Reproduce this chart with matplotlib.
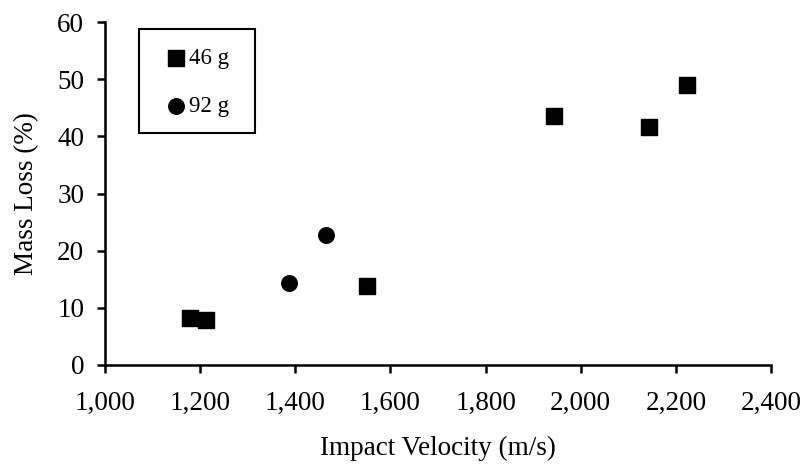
import matplotlib
matplotlib.use("Agg")
import matplotlib.pyplot as plt
from matplotlib.patches import Rectangle

# Data
vel_46g = [1179, 1213, 1551, 1944, 2144, 2224]
loss_46g = [8.2, 7.8, 13.9, 43.5, 41.7, 49.0]
vel_92g = [1387, 1465]
loss_92g = [14.3, 22.7]

x_ticks = [1000, 1200, 1400, 1600, 1800, 2000, 2200, 2400]
y_ticks = [0, 10, 20, 30, 40, 50, 60]

plt.rcParams['font.family'] = ['Liberation Serif', 'DejaVu Serif']

W, H = 805, 465
fig = plt.figure(figsize=(W / 100, H / 100), dpi=100)
ax = fig.add_axes([105 / W, 1 - 365 / H, (771 - 105) / W, (365 - 22) / H])

ax.scatter(vel_46g, loss_46g, marker='s', s=118, color='black', label='46 g', zorder=3)
ax.scatter(vel_92g, loss_92g, marker='o', s=125, color='black', label='92 g', zorder=3)

ax.set_xlim(1000, 2400)
ax.set_ylim(0, 60)
ax.set_xticks(x_ticks)
ax.set_xticklabels([f"{v:,}" for v in x_ticks])
ax.set_yticks(y_ticks)

ax.spines['top'].set_visible(False)
ax.spines['right'].set_visible(False)
for s in ['left', 'bottom']:
    ax.spines[s].set_linewidth(1.8)
ax.tick_params(direction='out', length=6, width=1.8, labelsize=19.5)
ax.tick_params(axis='x', pad=13)
ax.tick_params(axis='y', pad=9)

ax.set_xlabel('Impact Velocity (m/s)', fontsize=19.5, labelpad=14)
ax.set_ylabel('Mass Loss (%)', fontsize=19.5, labelpad=13)

# legend box drawn as a plain frame, entries placed inside it
box = Rectangle((139 / W, 1 - 133 / H), (255 - 139) / W, (133 - 29) / H,
                transform=fig.transFigure, fill=False, edgecolor='black',
                linewidth=1.5, zorder=5)
fig.patches.append(box)
leg = ax.legend(loc='center', bbox_to_anchor=(197 / W, 1 - 82.5 / H),
                bbox_transform=fig.transFigure, fontsize=16.5, frameon=False,
                handletextpad=0.05, labelspacing=1.15, borderpad=0,
                handlelength=1.0, borderaxespad=0, markerscale=1.0)

fig.savefig('out.png', dpi=100)
